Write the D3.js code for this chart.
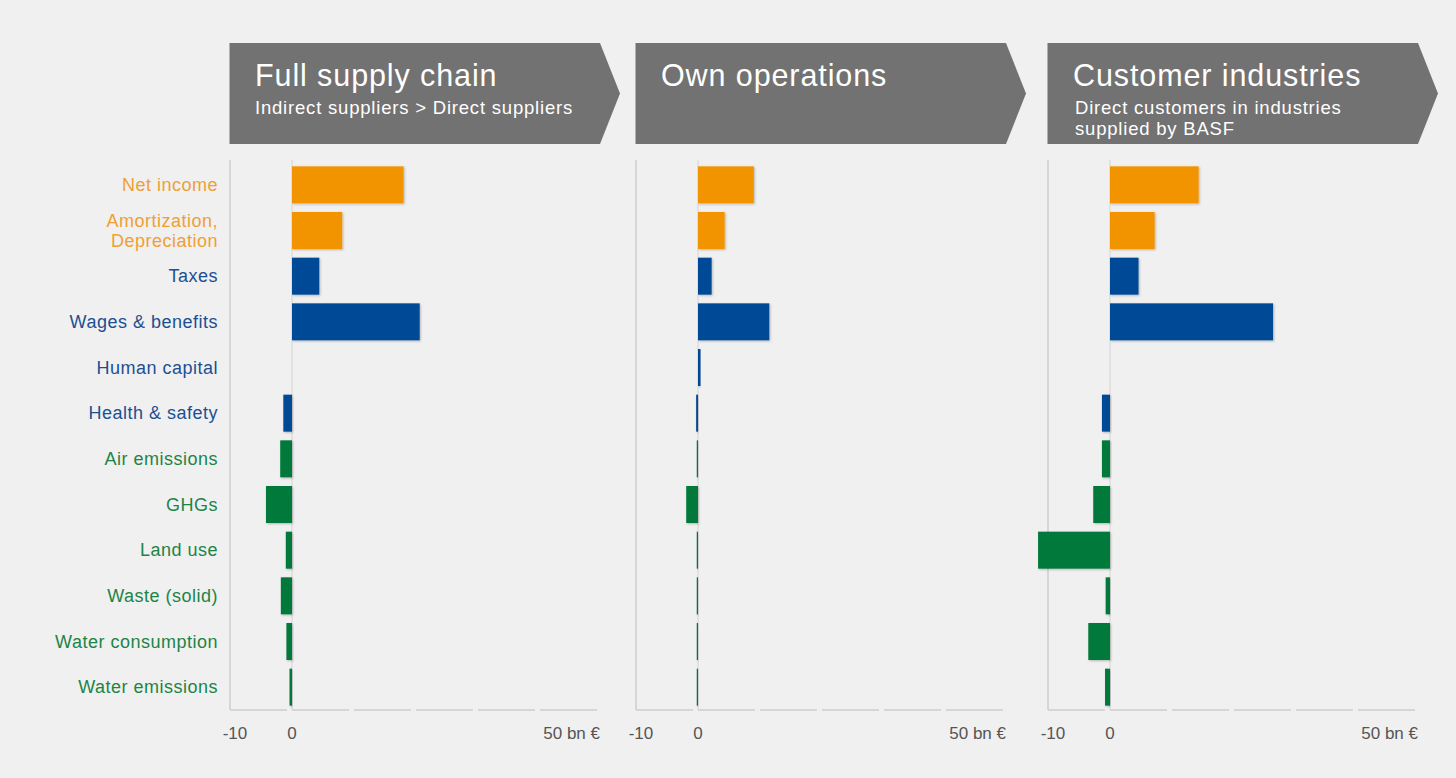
<!DOCTYPE html>
<html>
<head>
<meta charset="utf-8">
<script src="https://cdn.jsdelivr.net/npm/d3@7"></script>
<style>
  html, body { margin: 0; padding: 0; background: #f0f0f0; }
  svg { display: block; font-family: "Liberation Sans", Arial, Helvetica, sans-serif; }
</style>
</head>
<body>
<svg id="chart" width="1456" height="778"></svg>
<script>
// ---------- data ----------
const categories = [
  "Net income", "Amortization,\nDepreciation", "Taxes", "Wages & benefits",
  "Human capital", "Health & safety", "Air emissions", "GHGs",
  "Land use", "Waste (solid)", "Water consumption", "Water emissions"
];
const categoryGroups = [
  "finance", "finance", "social", "social",
  "social", "social", "env", "env",
  "env", "env", "env", "env"
];
const panelTitles = ["Full supply chain", "Own operations", "Customer industries"];
const panelSubtitles = [
  ["Indirect suppliers > Direct suppliers"],
  [],
  ["Direct customers in industries", "supplied by BASF"]
];
const fullSupplyChain = [18.0, 8.1, 4.4, 20.6, 0, -1.4, -1.9, -4.2, -1.0, -1.8, -0.9, -0.4];
const ownOperations   = [9.0, 4.3, 2.2, 11.5, 0.4, -0.3, -0.2, -1.9, -0.2, -0.2, -0.2, -0.2];
const customerIndustries = [14.3, 7.2, 4.6, 26.3, 0, -1.3, -1.3, -2.7, -11.6, -0.7, -3.5, -0.8];
const tickValues = [-10, 0, 10, 20, 30, 40, 50];
const tickLabels = { "-10": "-10", "0": "0", "50": "50 bn €" };

const panelValues = [fullSupplyChain, ownOperations, customerIndustries];

// ---------- styles / layout ----------
const barColor = { finance: "#f29400", social: "#004a96", env: "#00793a" };
const labelColor = { finance: "#eea035", social: "#1c4f92", env: "#1c8446" };
const panelLefts = [230, 636, 1048];
const panelWidth = 372;
const plotTop = 160, plotBottom = 710;

const svg = d3.select("#chart");

const defs = svg.append("defs");
const f = defs.append("filter").attr("id", "shadow")
  .attr("x", "-20%").attr("y", "-20%").attr("width", "140%").attr("height", "140%");
f.append("feDropShadow").attr("dx", 1).attr("dy", 1).attr("stdDeviation", 0.8)
  .attr("flood-color", "#000").attr("flood-opacity", 0.25);

const y = d3.scaleBand()
  .domain(categories)
  .range([162, plotBottom])
  .paddingInner(0.19)
  .paddingOuter(0.095);

// category labels
const labels = svg.append("g").attr("class", "cat-labels");
categories.forEach((c, i) => {
  const lines = c.split("\n");
  const cy = y(c) + y.bandwidth() / 2;
  const lh = 20;
  const t = labels.append("text")
    .attr("x", 218)
    .attr("text-anchor", "end")
    .attr("font-size", 18)
    .attr("letter-spacing", 0.5)
    .attr("fill", labelColor[categoryGroups[i]]);
  lines.forEach((ln, j) => {
    t.append("tspan")
      .attr("x", 218)
      .attr("y", cy + 6 + (j - (lines.length - 1) / 2) * lh)
      .text(ln);
  });
});

panelValues.forEach((vals, p) => {
  const left = panelLefts[p];
  const x = d3.scaleLinear().domain([-10, 50]).range([left, left + panelWidth]);
  const g = svg.append("g").attr("class", "panel");

  // header arrow
  const hTop = 43, hBot = 144, body = 370, tip = 20;
  g.append("path")
    .attr("d", `M${left - 0.5},${hTop} L${left + body},${hTop} L${left + body + tip},${(hTop + hBot) / 2} L${left + body},${hBot} L${left - 0.5},${hBot} Z`)
    .attr("fill", "#727272");
  g.append("text")
    .attr("x", left + 25).attr("y", 86)
    .attr("font-size", 30.5).attr("letter-spacing", 0.9).attr("fill", "#ffffff")
    .text(panelTitles[p]);
  panelSubtitles[p].forEach((s, j) => {
    g.append("text")
      .attr("x", left + (p === 2 ? 27 : 25)).attr("y", 114 + j * 21)
      .attr("font-size", 18.5).attr("letter-spacing", 0.8).attr("fill", "#ffffff")
      .text(s);
  });

  // left gridline (-10) and zero line
  g.append("line")
    .attr("x1", x(-10)).attr("x2", x(-10))
    .attr("y1", plotTop).attr("y2", plotBottom)
    .attr("stroke", "#d6d6d6").attr("stroke-width", 2);
  g.append("line")
    .attr("x1", x(0)).attr("x2", x(0))
    .attr("y1", plotTop).attr("y2", plotBottom)
    .attr("stroke", "#d9d9d9").attr("stroke-width", 1.2);

  // baseline segments with gaps at ticks
  for (let k = 0; k < tickValues.length - 1; k++) {
    g.append("line")
      .attr("x1", x(tickValues[k]))
      .attr("x2", x(tickValues[k + 1]) - 5)
      .attr("y1", plotBottom).attr("y2", plotBottom)
      .attr("stroke", "#d6d6d6").attr("stroke-width", 2);
  }

  // bars
  g.selectAll("rect.bar")
    .data(vals)
    .join("rect")
    .attr("class", "bar")
    .attr("x", d => Math.min(x(0), x(d)))
    .attr("width", d => Math.abs(x(d) - x(0)))
    .attr("y", (d, i) => y(categories[i]))
    .attr("height", y.bandwidth())
    .attr("fill", (d, i) => barColor[categoryGroups[i]])
    .attr("filter", "url(#shadow)");

  // tick labels
  tickValues.forEach(t => {
    const lab = tickLabels[String(t)];
    if (!lab) return;
    g.append("text")
      .attr("x", t === 50 ? x(t) - 2 : (t === -10 ? x(t) + 5 : x(t)))
      .attr("y", 739)
      .attr("text-anchor", t === 50 ? "end" : "middle")
      .attr("font-size", 17)
      .attr("fill", "#555555")
      .text(lab);
  });
});
</script>
</body>
</html>
